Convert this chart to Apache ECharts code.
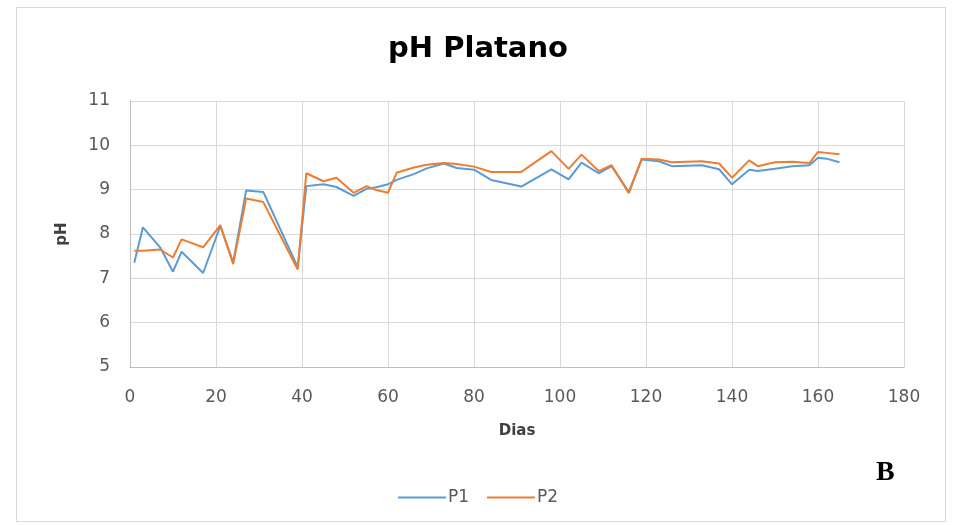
<!DOCTYPE html>
<html>
<head>
<meta charset="utf-8">
<title>pH Platano</title>
<script src="https://cdn.jsdelivr.net/npm/echarts@6/dist/echarts.min.js"></script>
<style>
  html, body { margin: 0; padding: 0; background: #ffffff; }
  #frame { position: absolute; left: 16px; top: 7px; width: 930px; height: 515px; border: 1px solid #d9d9d9; box-sizing: border-box; }
  #chart { position: absolute; left: 0; top: 0; width: 956px; height: 525px; }
</style>
</head>
<body>
<div id="frame"></div>
<div id="chart"></div>
<script>
// Sampling days
const dias = [1, 3, 7, 10, 12, 17, 21, 24, 27, 31, 39, 41, 45, 48, 52, 55, 57, 60, 62, 66, 69, 73, 76, 80, 84, 91, 98, 102, 105, 109, 112, 116, 119, 123, 126, 133, 137, 140, 144, 146, 150, 154, 158, 160, 162, 165];

// pH readings per sample
const p1 = [7.35, 8.15, 7.7, 7.15, 7.6, 7.12, 8.18, 7.36, 8.98, 8.95, 7.25, 9.08, 9.12, 9.06, 8.86, 9.02, 9.05, 9.12, 9.22, 9.35, 9.48, 9.59, 9.49, 9.45, 9.22, 9.07, 9.46, 9.23, 9.61, 9.37, 9.53, 8.95, 9.68, 9.64, 9.53, 9.55, 9.46, 9.12, 9.45, 9.42, 9.47, 9.53, 9.55, 9.72, 9.7, 9.62];
const p2 = [7.62, 7.62, 7.65, 7.47, 7.88, 7.7, 8.2, 7.32, 8.8, 8.72, 7.2, 9.37, 9.19, 9.27, 8.93, 9.08, 9.0, 8.93, 9.38, 9.5, 9.56, 9.6, 9.58, 9.52, 9.4, 9.4, 9.87, 9.47, 9.79, 9.42, 9.55, 8.92, 9.7, 9.68, 9.62, 9.64, 9.59, 9.27, 9.66, 9.53, 9.62, 9.63, 9.6, 9.85, 9.83, 9.8];

const seriesNames = ['P1', 'P2'];
const seriesColors = ['#5b9bd5', '#ed7d31'];

const pairs = (ys) => dias.map((d, i) => [d, ys[i]]);

const font = '"DejaVu Sans", "Open Sans", sans-serif';

const chart = echarts.init(document.getElementById('chart'), null, { renderer: 'canvas' });
chart.setOption({
  animation: false,
  backgroundColor: 'transparent',
  title: {
    text: 'pH Platano',
    left: 'center',
    top: 30,
    textStyle: { fontFamily: font, fontSize: 29, fontWeight: 'bold', color: '#000000' }
  },
  graphic: [{
    type: 'text',
    left: 876,
    top: 459,
    style: { text: 'B', font: 'bold 28px "Liberation Serif", "DejaVu Serif", serif', fill: '#000000' }
  }],
  legend: {
    top: 484,
    left: 'center',
    itemWidth: 48,
    itemHeight: 2,
    itemGap: 18,
    icon: 'rect',
    textStyle: { fontFamily: font, fontSize: 17, color: '#595959', padding: [0, 0, 0, -3] },
    data: seriesNames
  },
  grid: { left: 130, top: 101, width: 774, height: 266, containLabel: false },
  xAxis: {
    type: 'value',
    min: 0, max: 180, interval: 20,
    name: 'Dias',
    nameLocation: 'middle',
    nameGap: 57,
    nameTextStyle: { fontFamily: font, fontSize: 15, fontWeight: 'bold', color: '#404040' },
    axisLine: { show: true, lineStyle: { color: '#bfbfbf', width: 1 } },
    axisTick: { show: false },
    axisLabel: { fontFamily: font, fontSize: 17, color: '#595959', margin: 22 },
    splitLine: { show: true, lineStyle: { color: '#d9d9d9', width: 1 } }
  },
  yAxis: {
    type: 'value',
    min: 5, max: 11, interval: 1,
    name: 'pH',
    nameLocation: 'middle',
    nameGap: 60,
    nameTextStyle: { fontFamily: font, fontSize: 15, fontWeight: 'bold', color: '#404040' },
    axisLine: { show: true, lineStyle: { color: '#bfbfbf', width: 1 } },
    axisTick: { show: false },
    axisLabel: { fontFamily: font, fontSize: 17, color: '#595959', margin: 20 },
    splitLine: { show: true, lineStyle: { color: '#d9d9d9', width: 1 } }
  },
  series: seriesNames.map((name, k) => ({
    name: name,
    type: 'line',
    data: pairs(k === 0 ? p1 : p2),
    showSymbol: false,
    symbol: 'none',
    lineStyle: { color: seriesColors[k], width: 2 },
    itemStyle: { color: seriesColors[k] }
  }))
});
</script>
</body>
</html>
